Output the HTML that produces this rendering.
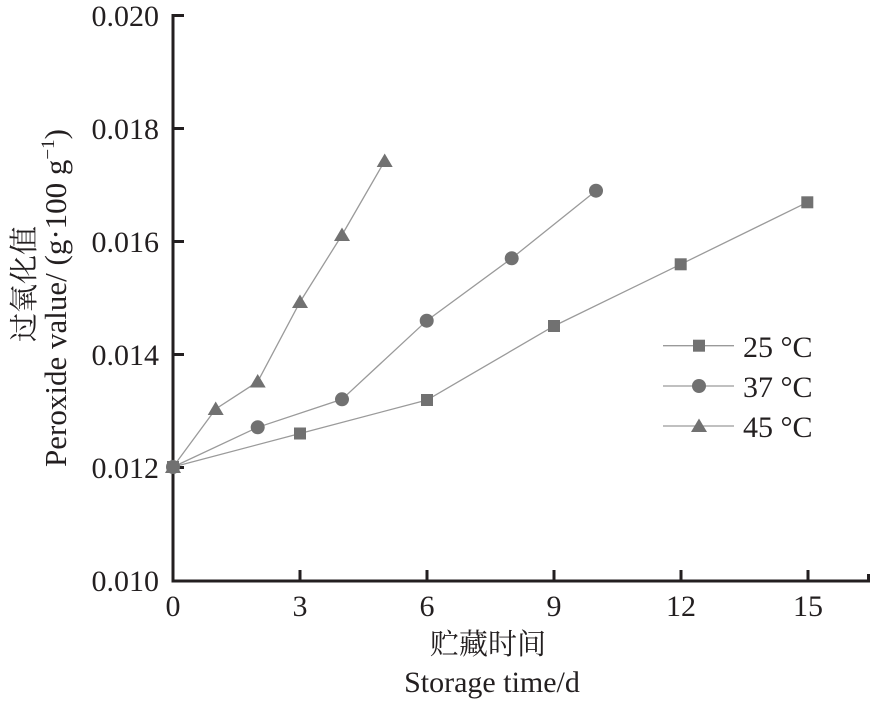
<!DOCTYPE html>
<html>
<head>
<meta charset="utf-8">
<style>
  html,body{margin:0;padding:0;background:#fff;}
  svg{display:block;}
  text{font-family:"Liberation Serif","Noto Serif CJK SC",serif;fill:#231f20;}
  .cjk{font-family:"Liberation Serif","Noto Serif CJK SC","Noto Sans CJK SC",serif;}
</style>
</head>
<body>
<svg width="874" height="702" viewBox="0 0 874 702" xmlns="http://www.w3.org/2000/svg">
  <rect width="874" height="702" fill="#fff"/>

  <!-- axes -->
  <g stroke="#231f20" stroke-width="3" fill="none">
    <line x1="173" y1="14" x2="173" y2="582"/>
    <line x1="171.5" y1="581" x2="870" y2="581"/>
    <!-- y ticks -->
    <line x1="173" y1="15.5" x2="184" y2="15.5"/>
    <line x1="173" y1="128.5" x2="184" y2="128.5"/>
    <line x1="173" y1="241.5" x2="184" y2="241.5"/>
    <line x1="173" y1="354.5" x2="184" y2="354.5"/>
    <line x1="173" y1="467.5" x2="184" y2="467.5"/>
    <!-- x ticks -->
    <line x1="300" y1="581" x2="300" y2="570"/>
    <line x1="427" y1="581" x2="427" y2="570"/>
    <line x1="554" y1="581" x2="554" y2="570"/>
    <line x1="681" y1="581" x2="681" y2="570"/>
    <line x1="808" y1="581" x2="808" y2="570"/>
    <line x1="868.5" y1="581" x2="868.5" y2="574"/>
  </g>

  <!-- y tick labels -->
  <g font-size="30" text-anchor="end">
    <text x="159" y="26">0.020</text>
    <text x="159" y="139">0.018</text>
    <text x="159" y="252">0.016</text>
    <text x="159" y="365">0.014</text>
    <text x="159" y="478">0.012</text>
    <text x="159" y="591">0.010</text>
  </g>

  <!-- x tick labels -->
  <g font-size="30" text-anchor="middle">
    <text x="173" y="616">0</text>
    <text x="300" y="616">3</text>
    <text x="427" y="616">6</text>
    <text x="554" y="616">9</text>
    <text x="681" y="616">12</text>
    <text x="808" y="616">15</text>
  </g>

  <!-- x axis title -->
  <text class="cjk" x="488" y="654" font-size="29" text-anchor="middle">贮藏时间</text>
  <text x="492" y="692" font-size="30" text-anchor="middle">Storage time/d</text>

  <!-- y axis title -->
  <text class="cjk" transform="translate(34,284) rotate(-90)" font-size="29" text-anchor="middle">过氧化值</text>
  <text transform="translate(66,298) rotate(-90)" font-size="31" text-anchor="middle">Peroxide value/ (g·100 g<tspan font-size="19" dy="-12">−1</tspan><tspan dy="12">)</tspan></text>

  <!-- series lines -->
  <g stroke="#9a9a9a" stroke-width="1.3" fill="none">
    <polyline points="173,467 300,433.5 427,400 554,326 680.7,264.3 807.3,202.3"/>
    <polyline points="173,467 257.7,427.3 342,399.3 426.7,320.7 511.7,258.3 596,190.7"/>
    <polyline points="173,467 215.7,409 257.7,381.7 300,302 342,235 384.7,161"/>
  </g>

  <!-- markers 25 °C squares -->
  <g fill="#717171">
    <rect x="167" y="461" width="12" height="12"/>
    <rect x="294" y="427.5" width="12" height="12"/>
    <rect x="421" y="394" width="12" height="12"/>
    <rect x="548" y="320" width="12" height="12"/>
    <rect x="674.7" y="258.3" width="12" height="12"/>
    <rect x="801.3" y="196.3" width="12" height="12"/>
  </g>
  <!-- markers 37 °C circles -->
  <g fill="#717171">
    <circle cx="173" cy="467" r="7"/>
    <circle cx="257.7" cy="427.3" r="7"/>
    <circle cx="342" cy="399.3" r="7"/>
    <circle cx="426.7" cy="320.7" r="7"/>
    <circle cx="511.7" cy="258.3" r="7"/>
    <circle cx="596" cy="190.7" r="7"/>
  </g>
  <!-- markers 45 °C triangles -->
  <g fill="#717171">
    <polygon points="173,459.5 181,473 165,473"/>
    <polygon points="215.7,401.5 223.7,415 207.7,415"/>
    <polygon points="257.7,374 265.7,387.5 249.7,387.5"/>
    <polygon points="300,294.5 308,308 292,308"/>
    <polygon points="342,227.5 350,241 334,241"/>
    <polygon points="384.7,153.5 392.7,167 376.7,167"/>
  </g>

  <!-- legend -->
  <g stroke="#9a9a9a" stroke-width="1.3">
    <line x1="663" y1="345.7" x2="734" y2="345.7"/>
    <line x1="663" y1="386" x2="734" y2="386"/>
    <line x1="663" y1="426" x2="734" y2="426"/>
  </g>
  <g fill="#717171">
    <rect x="693" y="339.7" width="12" height="12"/>
    <circle cx="699" cy="386" r="7"/>
    <polygon points="699,418.5 707,432 691,432"/>
  </g>
  <g font-size="30">
    <text x="743" y="357">25 °C</text>
    <text x="743" y="397">37 °C</text>
    <text x="743" y="437">45 °C</text>
  </g>
</svg>
</body>
</html>
